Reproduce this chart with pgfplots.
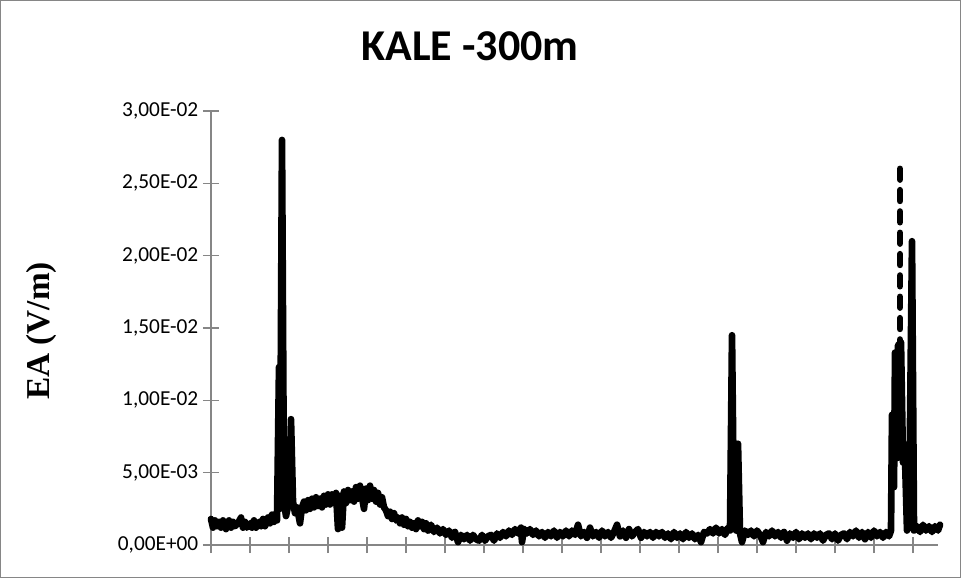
\documentclass[border=0pt]{standalone}
\usepackage{pgfplots}
\pgfplotsset{compat=1.18}
\usepackage{fontspec}
\setmainfont{Carlito}
\newfontfamily\timesfont{Liberation Serif}
\definecolor{axgrey}{HTML}{868686}

\begin{document}
\begin{tikzpicture}
\useasboundingbox (-158.25pt,-25.5pt) rectangle (563.25pt,408.75pt);
\draw[axgrey, line width=0.75pt] (-157.7pt,-24.2pt) rectangle (561.9pt,408.2pt);
\begin{axis}[
    at={(0,0)}, anchor=south west,
    scale only axis, width=545.25pt, height=325.5pt,
    xmin=211, xmax=938, ymin=0, ymax=30,
    axis x line*=bottom, axis y line*=left,
    axis line style={axgrey, line width=1pt},
    tick style={axgrey, line width=1pt},
    tick align=center, major tick length=12pt,
    xtick={211,250,...,913}, xticklabels={},
    ytick={0,5,...,30},
    yticklabels={{0,00E+00},{5,00E-03},{1,00E-02},{1,50E-02},{2,00E-02},{2,50E-02},{3,00E-02}},
    y tick label style={font=\fontsize{16}{19}\selectfont, text=black},
    clip=false,
  ]
  % values in units of 1E-03 V/m
  \addplot[black, line width=5pt, line join=round, line cap=round] coordinates {
    (211,1.8) (213,1.2) (215,1.7) (217,1.3) (219,1.6) (221,1.2) (223,1.7) (226,1.1)
    (229,1.7) (231,1.2) (233,1.6) (235,1.3) (238,1.5) (241,1.9) (243,1.2) (245,1.6)
    (247,1.2) (250,1.5) (252,1.2) (254,1.7) (256,1.2) (259,1.6) (261,1.3) (263,1.8)
    (265,1.3) (268,1.9) (270,1.5) (272,2.1) (274,1.6) (276,2.2) (277,1.7)
    (279,12.3) (280,2.5) (282,28.0) (284,3.0) (286,2.0) (289,3.0) (291,8.7) (293,3.0)
    (295,2.2) (297,2.6) (300,1.5)
    (302,2.6) (304,3.0) (306,2.4) (308,3.1) (310,2.5) (312,3.2) (314,2.6) (316,3.3)
    (318,2.7) (320,3.2) (322,2.6) (324,3.4) (326,2.8) (328,3.5) (330,2.8) (332,3.5)
    (334,2.9) (336,3.6) (338,1.1) (340,3.4) (342,1.2) (344,3.7) (346,2.9) (348,3.8)
    (350,3.1) (352,3.7) (354,3.0) (356,4.0) (358,3.2) (360,4.1) (362,3.3) (364,2.5)
    (366,3.9) (368,3.1) (370,4.1) (372,3.2) (374,3.8) (376,3.0) (378,3.6) (380,2.8)
    (382,3.3) (384,2.6) (386,2.4) (388,2.0) (390,2.3) (392,1.8) (394,2.2) (396,1.7)
    (398,1.9) (400,1.5) (402,1.9) (404,1.4) (406,1.8) (408,1.3) (410,1.6) (412,1.2)
    (414,1.5) (416,1.1) (418,1.7) (420,1.3) (422,1.6) (424,1.1) (426,1.5) (428,1.0)
    (431,1.4) (434,0.9) (437,1.2) (440,0.8) (443,1.1) (446,0.7) (449,1.0) (452,0.5)
    (455,0.9) (458,0.2) (461,0.7) (464,0.4) (467,0.7) (470,0.3) (473,0.7) (476,0.4)
    (479,0.3) (482,0.7) (485,0.3) (488,0.6) (491,0.7) (494,0.3) (497,0.8) (500,0.5)
    (503,0.9) (506,0.6) (509,1.0) (512,0.7) (515,1.1) (518,0.8) (521,1.2) (522,0.2)
    (524,1.1) (527,0.8) (530,1.1) (533,0.7) (536,1.0) (539,0.6) (542,0.9) (545,0.5)
    (548,0.9) (551,0.6) (554,1.0) (557,0.5) (560,0.9) (563,0.6) (566,1.0) (569,0.6)
    (572,1.0) (575,0.7) (578,1.4) (581,0.6) (584,0.9) (587,0.5) (590,1.2) (593,0.6)
    (596,0.9) (599,0.5) (602,1.0) (605,0.6) (608,0.9) (611,0.5) (614,0.9) (617,1.4)
    (620,0.6) (623,1.0) (626,0.5) (629,1.1) (632,0.6) (635,0.9) (638,1.1) (641,0.5)
    (644,0.9) (647,0.6) (650,0.9) (653,0.5) (656,0.9) (659,0.6) (662,0.9) (665,0.5)
    (668,0.8) (671,0.4) (674,0.9) (677,0.5) (680,0.8) (683,0.4) (686,0.9) (689,0.5)
    (692,0.8) (695,0.4) (698,0.7) (701,0.2) (704,0.9) (707,0.8) (710,1.1) (713,0.8)
    (716,1.2) (719,0.8) (722,1.1) (725,0.7) (728,1.2) (730,1.0)
    (732,14.5) (734,2.0) (736,1.0) (738,7.0) (740,0.8) (742,0.2) (745,1.0) (748,0.7)
    (751,1.0) (754,0.6) (757,1.0) (760,0.7) (763,0.2) (766,0.9) (769,0.6) (772,1.0)
    (775,0.6) (778,0.9) (781,0.5) (784,0.9) (787,0.3) (790,0.8) (793,0.5) (796,0.9)
    (799,0.4) (802,0.8) (805,0.5) (808,0.8) (811,0.4) (814,0.8) (817,0.5) (820,0.8)
    (823,0.3) (826,0.7) (829,0.8) (832,0.4) (835,0.8) (838,0.3) (841,0.7) (844,0.8)
    (847,0.4) (850,0.9) (853,0.6) (856,1.0) (859,0.5) (862,0.9) (865,0.4) (868,0.9)
    (871,0.5) (874,1.0) (877,0.6) (880,0.9) (883,0.5) (886,0.9) (889,0.6)
    (891,1.0) (892,9.0) (894,4.0) (895,13.3) (897,6.0) (898,13.8) (901,14.0)
    (903,5.7) (905,6.0) (907,1.0) (909,2.0) (912,21.0) (914,1.0) (917,1.3) (920,0.9)
    (923,1.4) (926,1.0) (929,1.3) (932,0.9) (935,1.3) (938,1.0) (940,1.4)
  };
  \addplot[black, line width=5pt, line cap=round, dash pattern=on 8pt off 8pt]
    coordinates {(900,26.0) (900,13.8)};
\end{axis}
\node[anchor=base, font=\bfseries\fontsize{33}{40}\selectfont] at (194.25pt,363pt) {KALE -300m};
\node[rotate=90, font=\timesfont\bfseries\fontsize{25}{30}\selectfont] at (-127.5pt,160.5pt) {EA (V/m)};
\end{tikzpicture}
\end{document}
